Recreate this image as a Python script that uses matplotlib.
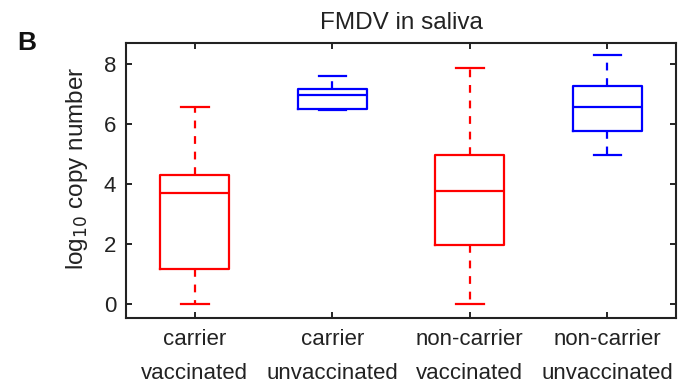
import matplotlib
matplotlib.use("Agg")
import matplotlib.pyplot as plt

plt.rcParams['font.family'] = ['Liberation Sans', 'DejaVu Sans']

categories = ["carrier\nvaccinated", "carrier\nunvaccinated", "non-carrier\nvaccinated", "non-carrier\nunvaccinated"]
whislo = [0.0, 6.45, 0.0, 4.95]
q1 = [1.15, 6.5, 1.95, 5.75]
med = [3.7, 6.95, 3.75, 6.55]
q3 = [4.3, 7.15, 4.95, 7.25]
whishi = [6.55, 7.6, 7.85, 8.3]
colors = ["#ff0000", "#0000ff", "#ff0000", "#0000ff"]

fig = plt.figure(figsize=(6.81, 3.85), dpi=100)
ax = fig.add_axes([126/681, 1-318/385, 550/681, 275/385])

for i in range(4):
    st = [dict(whislo=whislo[i], q1=q1[i], med=med[i], q3=q3[i], whishi=whishi[i], fliers=[])]
    c = colors[i]
    ax.bxp(st, positions=[i+1], widths=0.5, capwidths=0.2, showfliers=False,
           boxprops=dict(color=c, lw=1.6),
           medianprops=dict(color=c, lw=1.6),
           whiskerprops=dict(color=c, lw=1.6, linestyle=(0, (3.5, 3.5))),
           capprops=dict(color=c, lw=1.6))

tc = '#222222'
ax.set_xlim(0.5, 4.5)
ax.set_ylim(-0.47, 8.7)
ax.set_yticks([0, 2, 4, 6, 8])
ax.set_xticks([1, 2, 3, 4])
ax.set_xticklabels(categories, fontsize=16.2, linespacing=1.8, color=tc)
ax.tick_params(axis='both', direction='in', top=True, right=True, length=4, width=1.2, labelsize=16, labelcolor=tc)
ax.tick_params(axis='x', pad=8)
ax.tick_params(axis='y', pad=7)
for s in ax.spines.values():
    s.set_linewidth(1.5)
    s.set_color(tc)
ax.set_ylabel("log$_{10}$ copy number", fontsize=17.5, color=tc)
ax.yaxis.set_label_coords(-0.066, 0.545)
ax.set_title("FMDV in saliva", fontsize=17.5, color=tc, pad=10)
fig.text(27/681, 1-43/385, "B", fontsize=19, fontweight='bold', va='center', ha='center', color='#111111')

fig.savefig("out.png", dpi=100)
